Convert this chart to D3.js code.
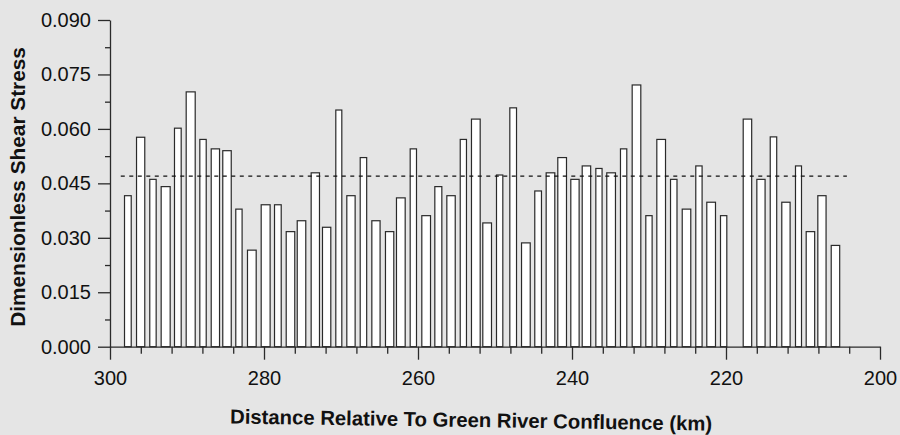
<!DOCTYPE html>
<html>
<head>
<meta charset="utf-8">
<script src="https://cdn.jsdelivr.net/npm/d3@7"></script>
<style>
  html, body { margin: 0; padding: 0; background: #e5e5e5; }
  svg { display: block; }
</style>
</head>
<body>
<svg id="chart" width="900" height="435"></svg>
<script>
// Reach boundaries (km above the Green River confluence) and the
// dimensionless shear stress computed for each reach.
const reachUpstream = [
  298.18, 296.62, 294.90, 293.42, 291.69, 290.17, 288.40, 286.92, 285.42, 283.73,
  282.21, 280.43, 278.70, 277.18, 275.75, 273.94, 272.47, 270.74, 269.31, 267.57,
  266.06, 264.29, 262.86, 261.08, 259.57, 257.88, 256.32, 254.58, 253.12, 251.65,
  249.87, 248.14, 246.62, 244.90, 243.42, 241.91, 240.22, 238.74, 236.97, 235.55,
  233.77, 232.25, 230.48, 229.05, 227.27, 225.75, 223.99, 222.56, 220.78, 217.83,
  216.06, 214.32, 212.82, 211.04, 209.65, 208.14, 206.40
];
const reachDownstream = [
  297.18, 295.42, 293.94, 292.12, 290.69, 288.87, 287.44, 285.71, 284.19, 282.78,
  280.95, 279.14, 277.70, 275.94, 274.51, 272.73, 271.26, 269.83, 268.10, 266.60,
  264.86, 263.08, 261.60, 260.13, 258.31, 256.84, 255.10, 253.64, 251.86, 250.39,
  248.92, 247.14, 245.36, 243.90, 242.17, 240.65, 239.01, 237.51, 236.03, 234.29,
  232.82, 231.00, 229.53, 227.79, 226.30, 224.51, 223.04, 221.30, 219.83, 216.60,
  214.86, 213.35, 211.61, 210.13, 208.42, 206.94, 205.17
];
const shearStress = [
  0.0416, 0.0577, 0.0461, 0.0441, 0.0602, 0.0702, 0.0571, 0.0545, 0.0540, 0.0379,
  0.0266, 0.0391, 0.0391, 0.0317, 0.0347, 0.0479, 0.0329, 0.0652, 0.0416, 0.0521,
  0.0347, 0.0317, 0.0410, 0.0545, 0.0361, 0.0441, 0.0416, 0.0571, 0.0627, 0.0341,
  0.0473, 0.0658, 0.0286, 0.0429, 0.0479, 0.0521, 0.0461, 0.0498, 0.0491, 0.0479,
  0.0545, 0.0721, 0.0361, 0.0571, 0.0461, 0.0379, 0.0498, 0.0398, 0.0361, 0.0627,
  0.0461, 0.0578, 0.0398, 0.0498, 0.0317, 0.0416, 0.0279
];

// Critical (threshold) shear stress and the stretch of river it is drawn over
const criticalShear = 0.047;
const criticalExtent = [298.6, 204.3];

const xDomain = [300, 200];
const yDomain = [0, 0.09];
const xMajorTicks = [300, 280, 260, 240, 220, 200];
const yMajorTicks = [0, 0.015, 0.030, 0.045, 0.060, 0.075, 0.090];

const xTitle = "Distance Relative To Green River Confluence (km)";
const yTitle = "Dimensionless Shear Stress";

const reaches = shearStress.map((v, i) => ({
  up: reachUpstream[i], down: reachDownstream[i], value: v
}));

const svg = d3.select("#chart");
const W = 900, H = 435;
const plot = { left: 110, right: 880, top: 20, bottom: 346.7 };
const ink = "#2a2a2a";
const font = "'Liberation Sans', Arial, Helvetica, sans-serif";

svg.append("rect").attr("width", W).attr("height", H).attr("fill", "#e5e5e5");

const x = d3.scaleLinear().domain(xDomain).range([plot.left, plot.right]);
const y = d3.scaleLinear().domain(yDomain).range([plot.bottom, plot.top]);

// Bars: one per reach, spanning the reach's extent along the river
svg.append("g")
  .selectAll("rect")
  .data(reaches)
  .join("rect")
    .attr("x", d => Math.min(x(d.up), x(d.down)) + 0.5)
    .attr("width", d => Math.abs(x(d.down) - x(d.up)) - 1)
    .attr("y", d => y(d.value))
    .attr("height", d => y(0) - y(d.value))
    .attr("fill", "#ffffff")
    .attr("stroke", ink)
    .attr("stroke-width", 1.2);

// Threshold line
svg.append("line")
  .attr("x1", x(criticalExtent[0]))
  .attr("x2", x(criticalExtent[1]))
  .attr("y1", y(criticalShear))
  .attr("y2", y(criticalShear))
  .attr("stroke", "#111")
  .attr("stroke-width", 1.3)
  .attr("stroke-dasharray", "4,4.5");

// Y axis: major ticks with labels, minor ticks halfway between
const yMinor = d3.range(0, 0.0901, 0.0075).filter(v => !yMajorTicks.some(t => Math.abs(t - v) < 1e-6));
const yAxisG = svg.append("g").attr("transform", `translate(${plot.left},0)`);
yAxisG.call(
  d3.axisLeft(y).tickValues(yMajorTicks).tickFormat(d3.format(".3f"))
    .tickSize(12).tickSizeOuter(0).tickPadding(7)
);
yAxisG.append("g").call(
  d3.axisLeft(y).tickValues(yMinor).tickFormat("").tickSize(5).tickSizeOuter(0)
).select(".domain").remove();

// X axis: major ticks every 20 km, minor ticks every 4 km
const xMinor = d3.range(296, 200, -4).filter(v => v % 20 !== 0);
const xAxisG = svg.append("g").attr("transform", `translate(0,${plot.bottom})`);
xAxisG.call(
  d3.axisBottom(x).tickValues(xMajorTicks).tickFormat(d3.format("d"))
    .tickSize(13).tickSizeOuter(0).tickPadding(11)
);
xAxisG.append("g").call(
  d3.axisBottom(x).tickValues(xMinor).tickFormat("").tickSize(7).tickSizeOuter(0)
).select(".domain").remove();

svg.selectAll(".domain, .tick line").attr("stroke", ink).attr("stroke-width", 1.3);
svg.selectAll(".tick text")
  .attr("fill", "#111")
  .style("font-family", font)
  .style("font-size", "20px");

// Axis titles
svg.append("text")
  .attr("transform", "translate(471,427) rotate(0.85)")
  .attr("text-anchor", "middle")
  .attr("fill", "#111")
  .style("font-family", font)
  .style("font-weight", "bold")
  .style("font-size", "20.3px")
  .text(xTitle);

svg.append("text")
  .attr("transform", "translate(25,187) rotate(-90)")
  .attr("text-anchor", "middle")
  .attr("fill", "#111")
  .style("font-family", font)
  .style("font-weight", "bold")
  .style("font-size", "20.8px")
  .text(yTitle);
</script>
</body>
</html>
